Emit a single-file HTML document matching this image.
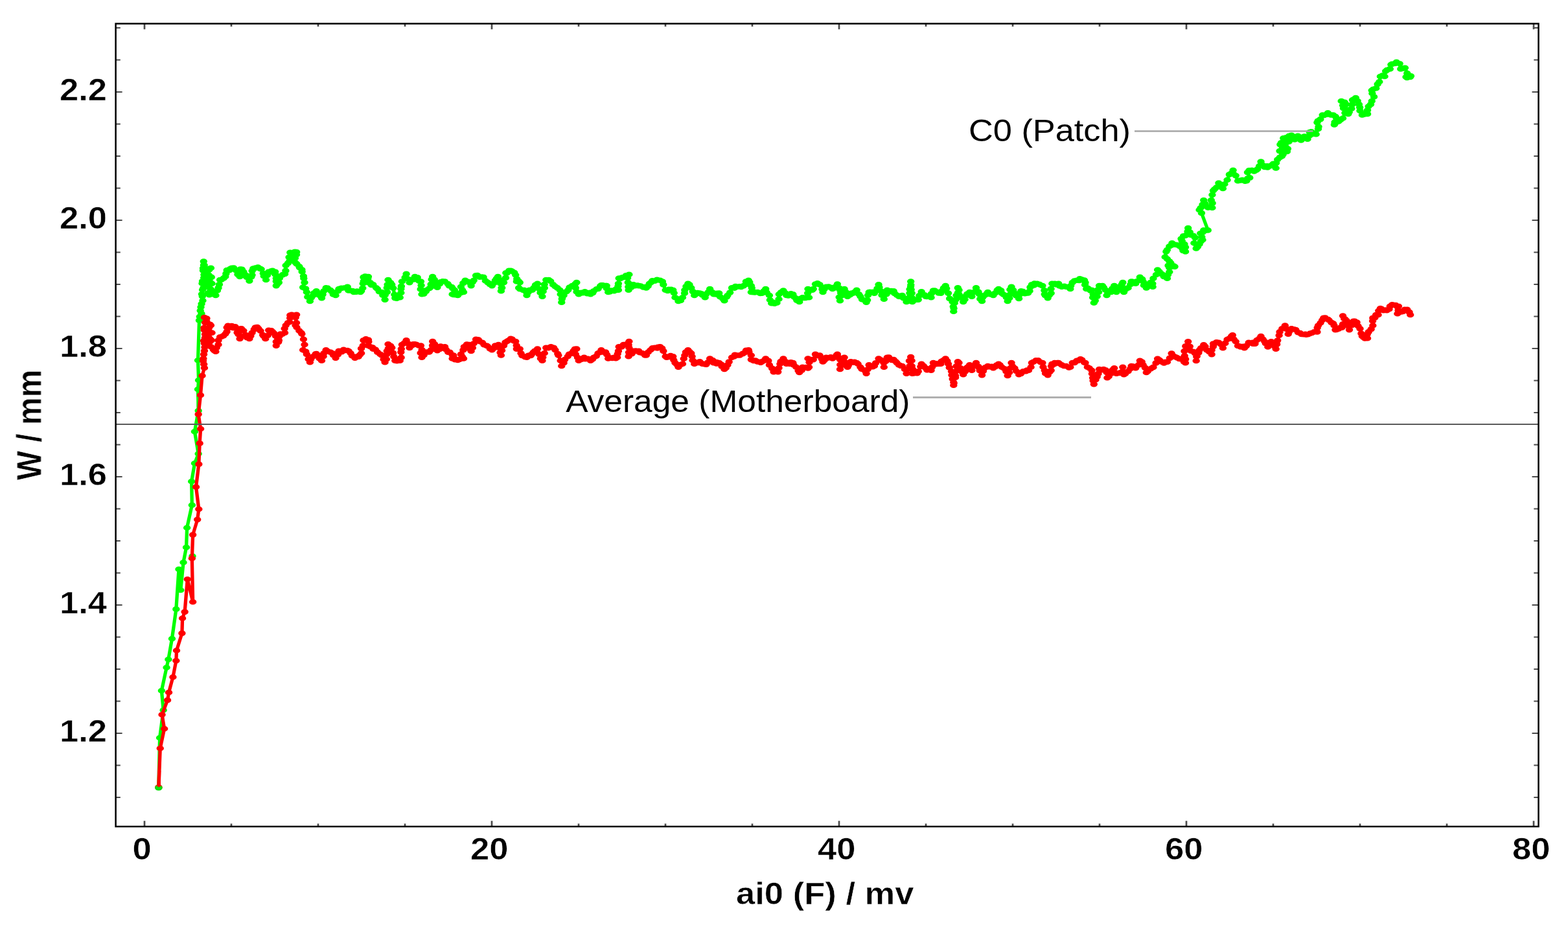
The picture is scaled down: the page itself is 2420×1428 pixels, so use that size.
<!DOCTYPE html>
<html lang="en"><head><meta charset="utf-8"><title>W / mm vs ai0 (F) / mv</title>
<style>html,body{margin:0;padding:0;background:#fff;}body{width:2420px;height:1428px;overflow:hidden;}svg{display:block;}text{font-family:"Liberation Sans",Arial,Helvetica,sans-serif;fill:#000;}.b{font-weight:bold;stroke:#fff;stroke-width:0.5px;}</style></head><body>
<svg width="2420" height="1428" viewBox="0 0 2420 1428">
<rect x="0" y="0" width="2420" height="1428" fill="#ffffff"/>
<defs><filter id="soft" x="0" y="0" width="2420" height="1428" filterUnits="userSpaceOnUse"><feGaussianBlur stdDeviation="0.6"/></filter><filter id="soft2" x="0" y="0" width="2420" height="1428" filterUnits="userSpaceOnUse"><feGaussianBlur stdDeviation="0.6"/></filter></defs>
<path d="M223.00 1276v-8.8M223.00 36.5v8.8M357.00 1276v-4.6M357.00 36.5v4.6M491.00 1276v-4.6M491.00 36.5v4.6M625.00 1276v-4.6M625.00 36.5v4.6M759.00 1276v-8.8M759.00 36.5v8.8M893.00 1276v-4.6M893.00 36.5v4.6M1027.00 1276v-4.6M1027.00 36.5v4.6M1161.00 1276v-4.6M1161.00 36.5v4.6M1295.00 1276v-8.8M1295.00 36.5v8.8M1429.00 1276v-4.6M1429.00 36.5v4.6M1563.00 1276v-4.6M1563.00 36.5v4.6M1697.00 1276v-4.6M1697.00 36.5v4.6M1831.00 1276v-8.8M1831.00 36.5v8.8M1965.00 1276v-4.6M1965.00 36.5v4.6M2099.00 1276v-4.6M2099.00 36.5v4.6M2233.00 1276v-4.6M2233.00 36.5v4.6M2367.00 1276v-8.8M2367.00 36.5v8.8" stroke="#4c4c4c" stroke-width="2.7" fill="none"/>
<path d="M178.6 1231.00h7.2M2374.5 1231.00h-7.2M178.6 1181.50h7.2M2374.5 1181.50h-7.2M178.6 1132.00h10M2374.5 1132.00h-10M178.6 1082.50h7.2M2374.5 1082.50h-7.2M178.6 1033.00h7.2M2374.5 1033.00h-7.2M178.6 983.50h7.2M2374.5 983.50h-7.2M178.6 934.00h10M2374.5 934.00h-10M178.6 884.50h7.2M2374.5 884.50h-7.2M178.6 835.00h7.2M2374.5 835.00h-7.2M178.6 785.50h7.2M2374.5 785.50h-7.2M178.6 736.00h10M2374.5 736.00h-10M178.6 686.50h7.2M2374.5 686.50h-7.2M178.6 637.00h7.2M2374.5 637.00h-7.2M178.6 587.50h7.2M2374.5 587.50h-7.2M178.6 538.00h10M2374.5 538.00h-10M178.6 488.50h7.2M2374.5 488.50h-7.2M178.6 439.00h7.2M2374.5 439.00h-7.2M178.6 389.50h7.2M2374.5 389.50h-7.2M178.6 340.00h10M2374.5 340.00h-10M178.6 290.50h7.2M2374.5 290.50h-7.2M178.6 241.00h7.2M2374.5 241.00h-7.2M178.6 191.50h7.2M2374.5 191.50h-7.2M178.6 142.00h10M2374.5 142.00h-10M178.6 92.50h7.2M2374.5 92.50h-7.2M178.6 43.00h7.2M2374.5 43.00h-7.2" stroke="#4c4c4c" stroke-width="2" fill="none"/>
<g filter="url(#soft)">
<g transform="scale(1.33 1)" stroke="#00ff00" fill="none" stroke-linecap="round" stroke-linejoin="round"><path d="M184.1 1215.4L185.4 1139.0L189.6 1096.3L187.5 1066.2L193.3 1030.5L195.4 1018.0L199.6 986.0L204.4 940.4L207.5 878.8L209.6 911.0L212.8 868.3L216.2 845.0L217.0 814.7L222.8 779.7L222.3 743.2L225.9 715.2L230.2 700.5L225.9 666.2L230.2 634.0L229.7 601.0L230.5 587.0L229.7 556.2L231.2 494.6L231.8 488.7L233.8 484.0L232.5 479.5L233.1 474.0L233.9 469.1L235.3 464.0L234.8 457.4L234.2 454.0L235.0 447.3L236.1 444.0L234.6 437.5L235.0 434.0L236.6 428.7L236.8 424.0L235.7 417.6L235.7 414.0L237.0 409.3L236.3 403.6L236.4 409.2L236.0 416.0L237.2 419.6L238.7 419.4L240.1 415.4L243.5 414.6L244.7 413.8L242.7 416.4L240.4 421.2L242.6 425.0L245.3 427.9L242.3 429.7L240.5 429.6L239.1 432.8L241.2 435.1L243.9 435.4L245.9 437.8L243.4 439.3L242.2 442.1L239.7 442.7L241.8 443.5L244.3 446.1L245.3 447.7L243.0 451.0L241.6 452.6L242.9 455.2L246.5 454.0L248.1 453.9L250.3 456.0L252.2 448.5L253.4 444.4L254.5 439.1L255.3 432.0L256.9 431.7L259.6 429.4L261.5 427.0L262.3 422.4L263.3 417.1L266.2 417.2L267.4 414.8L268.9 413.8L271.2 413.6L273.7 417.1L274.5 417.9L275.9 423.6L278.3 427.0L278.9 420.8L278.9 415.5L280.7 415.8L282.6 419.6L285.1 424.5L286.4 427.9L289.4 433.6L291.6 427.5L292.5 424.5L292.6 418.3L293.8 414.6L296.5 413.6L297.5 413.3L299.3 412.5L302.1 414.9L303.1 415.5L305.5 422.0L306.2 426.2L308.7 432.0L310.1 425.0L311.8 419.6L314.8 418.3L316.2 417.9L317.0 420.4L319.3 419.6L319.3 423.4L320.5 429.5L320.5 434.3L320.5 441.1L321.6 438.9L323.6 436.1L324.4 429.4L325.5 426.2L328.1 424.1L330.5 422.9L331.5 417.9L331.7 409.7L334.1 406.4L336.0 403.1L335.4 397.1L336.7 389.8L339.1 391.1L341.0 390.8L342.0 388.8L344.1 389.0L344.0 393.1L342.4 398.5L342.9 405.5L344.3 407.4L347.2 411.3L347.8 413.2L350.3 416.3L350.5 419.4L352.2 426.2L352.5 429.7L353.4 436.1L351.6 443.6L354.6 445.6L355.9 451.0L357.0 458.4L359.7 465.0L361.2 459.6L363.4 456.0L364.4 452.2L367.1 449.3L370.0 453.9L370.8 456.0L373.3 460.1L374.5 454.6L375.8 449.3L378.3 444.4L379.9 444.5L383.3 447.7L384.8 449.9L386.7 454.4L389.5 456.0L392.3 449.3L393.2 446.0L394.4 445.5L396.2 444.9L400.2 444.2L401.6 444.7L403.2 442.7L404.4 448.5L406.2 448.5L409.1 449.0L410.6 451.0L413.4 450.7L414.4 449.6L418.2 450.9L419.3 449.3L420.9 444.8L421.2 437.8L422.0 434.0L421.8 427.9L423.7 426.6L424.5 426.8L427.4 427.0L426.9 429.9L427.4 436.1L429.7 436.4L431.0 440.0L433.0 439.4L436.5 444.3L438.0 446.0L440.1 450.2L442.9 451.0L444.2 455.8L446.7 462.6L446.8 455.4L449.2 450.9L449.1 444.4L449.7 439.4L450.4 432.0L453.2 436.3L454.7 439.4L456.3 444.8L457.8 454.7L458.5 460.1L460.3 460.7L462.8 458.4L464.1 459.3L465.3 452.0L465.3 446.0L465.7 441.9L466.5 434.5L470.0 428.3L471.5 422.9L472.7 430.3L475.2 436.1L476.6 431.7L480.0 431.5L481.5 427.0L484.4 428.2L486.3 433.7L488.3 434.5L488.8 440.5L488.1 446.4L489.5 454.3L491.7 453.8L494.2 450.0L495.1 447.7L498.4 445.0L500.1 442.7L500.1 438.7L500.9 431.4L502.0 427.0L504.0 431.6L505.5 437.2L507.5 443.6L510.3 438.1L511.3 435.3L513.7 434.3L516.2 434.5L519.6 438.1L521.2 441.1L524.2 443.0L525.4 445.5L527.4 447.7L524.9 454.3L526.0 454.9L528.4 455.2L531.2 456.0L534.1 452.5L535.7 451.5L538.0 451.0L536.6 447.7L534.9 442.7L537.4 437.1L539.9 432.8L543.0 434.7L544.8 436.1L546.7 441.1L548.4 435.5L549.8 432.8L552.3 425.4L554.0 425.1L556.7 427.6L559.4 427.5L561.0 427.9L563.4 433.5L566.0 436.1L568.5 439.0L570.9 441.1L573.2 437.0L574.7 432.8L576.3 429.7L577.8 427.0L580.3 432.3L580.9 437.8L582.0 444.3L581.5 449.3L582.5 444.3L584.6 436.1L586.8 428.9L587.1 421.2L588.2 421.4L590.7 417.7L592.7 417.9L594.0 418.6L596.8 420.8L598.3 424.5L599.8 430.5L599.5 434.5L601.8 434.0L603.2 436.1L602.0 444.4L603.3 446.1L607.2 448.0L608.2 447.7L610.7 450.8L611.3 456.0L612.8 451.5L614.4 447.7L617.6 447.8L619.4 444.4L621.4 439.9L623.7 437.8L625.6 446.0L627.1 451.9L629.3 457.6L630.2 449.9L631.8 444.4L631.7 439.0L633.7 432.0L635.1 432.2L636.8 432.0L638.9 434.0L641.8 439.4L644.3 442.3L646.7 444.4L649.7 447.8L650.5 454.3L652.1 461.5L651.7 466.7L652.4 459.9L654.2 456.0L657.3 450.2L659.2 447.7L660.9 443.6L664.1 441.1L667.5 438.3L669.1 436.1L667.9 444.4L669.2 450.5L671.6 454.3L674.6 451.9L676.2 452.3L677.8 451.0L678.7 450.3L681.4 453.3L684.4 451.9L685.3 454.3L687.8 452.3L689.0 449.3L692.3 446.2L694.0 446.0L696.6 441.6L697.7 440.2L699.4 440.4L702.8 441.0L703.9 441.1L704.0 445.2L705.8 451.0L707.5 450.5L709.6 448.5L712.6 449.3L714.4 446.9L717.6 447.7L717.2 442.1L717.6 437.8L718.2 429.5L720.0 429.9L722.1 428.4L725.0 427.9L726.5 425.2L730.0 423.7L728.3 429.0L728.8 436.1L729.2 442.7L729.4 447.7L731.2 443.8L732.3 443.7L735.0 439.4L736.9 441.1L739.8 440.5L741.2 441.1L743.4 441.5L746.6 443.4L748.4 443.0L749.9 444.4L752.0 441.8L753.6 437.8L755.4 436.0L757.0 433.4L759.8 433.6L762.4 431.8L763.2 432.2L766.0 432.8L768.7 434.6L769.8 439.4L772.3 447.7L774.8 449.0L776.1 446.9L778.7 446.9L781.0 447.7L782.1 452.2L783.4 459.3L786.3 461.3L787.2 465.0L789.8 463.9L792.1 459.3L794.4 452.6L794.6 447.7L796.2 442.0L798.4 437.8L800.0 439.3L802.1 444.4L804.0 450.1L805.8 456.0L807.9 453.8L809.4 452.0L812.0 452.6L813.9 453.4L815.1 455.4L818.2 459.3L819.5 454.1L822.0 450.7L823.8 446.0L826.4 451.1L828.2 454.3L831.1 454.5L832.0 452.8L834.4 452.6L835.7 458.2L838.9 461.2L840.6 464.2L843.2 458.4L844.3 456.0L847.1 451.6L849.3 444.4L852.1 444.7L853.5 442.0L855.5 442.7L858.1 442.3L860.0 443.0L862.0 441.8L863.0 441.1L865.3 439.0L865.7 434.6L868.6 432.8L869.8 435.6L871.7 441.1L872.4 444.6L871.7 451.0L873.8 451.2L875.8 451.4L876.2 451.0L879.1 451.0L882.2 452.9L884.1 452.6L886.4 449.3L888.5 446.0L889.7 451.6L892.8 456.0L893.5 463.0L895.3 468.3L896.9 466.5L898.8 468.6L901.5 467.5L903.8 461.8L904.0 454.3L906.2 451.4L909.0 448.5L911.2 452.2L912.7 456.0L914.8 456.5L915.5 455.6L917.8 453.4L920.2 454.3L921.6 458.5L923.9 460.9L924.7 463.6L927.6 465.9L929.0 461.0L931.3 459.3L933.6 459.9L934.6 459.9L936.9 459.3L938.8 459.3L937.3 452.5L937.6 446.0L939.0 447.5L942.6 447.8L943.8 446.0L946.2 438.6L948.6 437.3L951.2 439.4L954.1 446.4L954.9 451.0L956.3 446.7L958.7 442.7L961.5 442.5L962.6 443.3L964.3 443.9L966.1 446.0L967.2 445.2L969.9 442.2L971.7 438.6L973.7 444.5L974.8 447.7L975.7 452.2L973.8 458.7L974.8 464.2L976.5 456.4L977.7 451.9L979.8 446.0L981.3 450.5L983.5 457.6L986.3 455.3L988.2 452.5L989.7 452.6L991.1 451.4L994.1 447.7L996.7 454.2L998.4 457.6L1000.3 462.1L1002.8 463.2L1005.3 466.7L1006.5 463.3L1007.2 455.7L1008.4 451.0L1009.5 450.7L1013.3 450.7L1014.6 452.6L1018.0 445.3L1019.6 439.4L1020.3 443.5L1022.1 449.3L1023.3 455.6L1025.8 461.7L1028.6 454.3L1029.5 447.7L1032.1 449.5L1034.1 449.0L1035.2 450.5L1037.0 449.3L1038.1 452.9L1041.0 455.7L1043.2 457.6L1045.4 457.7L1046.9 456.0L1048.4 460.1L1051.9 465.9L1052.9 460.8L1055.6 452.6L1055.7 446.5L1057.0 439.8L1056.9 434.5L1056.8 442.2L1057.3 447.1L1058.1 452.6L1058.2 459.5L1058.7 465.9L1060.3 463.6L1064.2 462.6L1065.6 462.6L1066.8 456.4L1069.3 450.2L1072.8 455.3L1074.3 457.6L1075.5 458.0L1077.5 457.6L1080.5 459.3L1080.8 453.3L1083.0 448.5L1084.6 448.6L1088.1 450.8L1089.3 452.5L1091.7 452.6L1093.6 448.5L1095.0 444.5L1097.2 441.1L1098.3 445.3L1100.4 452.6L1102.0 460.9L1105.3 465.9L1106.2 473.3L1106.6 480.7L1106.8 476.0L1107.7 467.8L1109.1 462.6L1109.8 456.1L1111.5 452.1L1111.5 444.4L1112.8 447.7L1112.7 454.0L1114.6 457.6L1116.7 460.1L1117.8 465.9L1119.6 462.3L1121.5 456.0L1122.3 453.8L1125.2 451.0L1127.7 457.6L1131.1 450.6L1132.7 444.4L1135.3 450.5L1136.4 454.3L1137.4 461.4L1139.5 465.0L1140.3 459.1L1142.6 456.0L1144.9 453.6L1146.3 451.0L1148.9 454.2L1151.1 454.8L1152.6 456.0L1154.7 452.5L1157.3 447.7L1158.8 446.0L1161.5 448.4L1162.5 452.6L1164.6 454.8L1167.5 456.0L1167.9 459.2L1169.3 465.0L1171.3 460.2L1172.4 454.3L1172.1 447.1L1173.7 442.7L1175.7 447.8L1177.4 452.6L1179.3 456.4L1182.4 460.9L1182.6 455.5L1184.9 449.3L1186.8 449.7L1189.3 453.2L1191.1 452.6L1192.9 452.4L1194.8 449.3L1195.5 443.4L1197.3 439.4L1199.8 440.5L1200.4 437.6L1203.5 437.8L1206.0 438.9L1207.1 439.7L1209.7 441.1L1211.9 448.3L1212.2 454.3L1213.1 456.2L1215.9 460.1L1217.6 455.8L1219.7 452.6L1219.6 445.9L1220.9 437.8L1223.3 438.8L1224.0 437.8L1226.1 439.5L1228.4 437.8L1229.6 441.4L1232.1 442.7L1235.1 441.7L1237.1 442.7L1240.5 443.6L1242.0 446.0L1242.6 441.1L1244.5 436.1L1246.8 433.5L1249.5 432.8L1252.3 432.9L1253.0 430.4L1255.1 431.2L1258.3 432.6L1259.4 436.1L1259.1 439.8L1260.7 446.0L1262.5 445.0L1265.6 448.6L1266.9 447.7L1268.6 454.3L1268.1 459.3L1269.4 467.5L1270.9 464.1L1273.1 457.6L1274.9 451.0L1273.7 447.5L1275.6 441.1L1277.2 441.7L1279.3 441.1L1280.8 443.9L1283.0 447.7L1284.3 456.0L1285.7 452.3L1289.3 451.0L1290.8 445.2L1293.0 441.1L1293.4 447.7L1295.5 451.0L1296.7 448.5L1299.2 442.7L1301.8 438.9L1302.9 436.1L1303.4 444.7L1304.2 451.0L1306.6 446.1L1309.1 444.4L1311.9 439.0L1312.9 434.5L1315.1 435.0L1317.8 437.8L1319.3 434.2L1322.8 427.9L1325.4 430.8L1326.5 434.5L1327.4 440.4L1330.3 444.4L1331.8 438.6L1335.2 436.1L1337.7 442.7L1337.5 437.8L1338.3 429.8L1341.7 424.0L1343.3 416.5L1345.3 419.3L1348.3 423.1L1350.6 427.0L1352.9 426.7L1354.5 429.8L1355.3 424.1L1357.0 419.8L1356.9 413.1L1355.7 409.9L1357.9 411.8L1358.4 412.3L1361.3 410.2L1363.2 411.6L1362.1 410.5L1358.5 405.7L1357.0 403.3L1354.5 399.7L1352.0 396.7L1353.3 388.4L1354.4 385.8L1357.0 380.2L1359.1 378.8L1360.1 375.2L1363.0 377.5L1364.3 377.8L1366.9 378.5L1369.1 380.3L1371.9 383.5L1372.9 387.0L1375.6 388.4L1375.6 381.6L1374.4 376.9L1371.6 371.8L1370.7 368.6L1373.3 364.4L1375.6 363.6L1378.2 357.2L1378.7 352.1L1380.7 358.4L1380.6 362.0L1381.8 362.8L1384.7 363.8L1386.8 366.9L1385.6 375.2L1388.1 383.5L1389.8 380.9L1391.8 376.9L1393.5 372.6L1395.5 370.2L1394.6 365.7L1393.0 360.3L1395.6 358.7L1396.8 355.4L1398.4 356.0L1401.7 355.4L1394.3 328.9L1391.8 324.0L1393.2 321.1L1395.5 315.7L1396.8 309.1L1398.3 314.3L1400.5 319.0L1401.9 320.4L1404.1 319.2L1406.7 320.7L1406.9 313.6L1405.5 309.1L1406.7 300.8L1407.9 294.2L1409.4 292.0L1411.7 289.3L1414.2 282.6L1417.7 286.4L1419.1 290.9L1421.0 284.3L1424.1 277.7L1426.6 269.4L1429.1 267.2L1430.9 262.8L1431.6 268.7L1434.0 271.1L1436.5 279.3L1439.7 278.4L1441.5 277.7L1444.9 279.7L1446.5 279.3L1447.9 275.2L1450.2 274.4L1447.7 266.1L1449.5 263.1L1452.7 262.8L1455.3 264.5L1457.7 262.8L1459.2 261.1L1461.4 256.2L1463.2 249.6L1465.3 255.0L1467.6 257.9L1470.3 256.4L1470.9 258.4L1473.8 256.2L1475.9 254.9L1477.5 252.9L1478.8 255.2L1480.6 259.5L1480.9 251.6L1482.5 246.3L1485.2 242.9L1487.5 241.3L1485.0 233.1L1486.2 232.4L1488.3 228.8L1489.9 230.0L1492.5 228.1L1489.5 225.8L1488.0 225.9L1485.6 223.1L1486.8 220.3L1489.8 220.3L1490.8 219.9L1493.7 218.2L1491.9 214.5L1489.3 213.2L1488.7 219.3L1490.0 225.3L1489.0 231.6L1488.7 238.7L1490.4 235.1L1493.5 233.9L1494.3 229.6L1491.5 226.2L1490.0 223.8L1491.2 223.0L1494.6 218.7L1495.6 218.8L1494.7 215.3L1492.5 212.2L1495.4 210.8L1495.9 209.9L1498.7 208.9L1500.6 210.5L1502.4 215.5L1505.1 213.2L1506.1 209.8L1508.2 211.6L1509.8 216.4L1511.7 213.0L1513.6 210.6L1515.0 211.4L1517.3 214.7L1519.5 209.4L1519.8 204.0L1521.6 203.4L1524.5 206.7L1524.6 205.4L1527.2 207.3L1529.7 199.0L1530.1 195.6L1528.5 189.1L1529.4 186.5L1532.2 184.1L1534.7 177.5L1536.5 178.0L1539.1 176.8L1540.9 174.2L1542.3 176.5L1544.5 177.4L1547.1 177.5L1549.7 179.7L1550.9 182.5L1548.9 188.6L1548.4 192.4L1550.6 188.9L1553.3 187.4L1555.6 185.0L1558.3 182.5L1560.8 174.2L1559.0 167.1L1558.3 162.6L1556.5 156.0L1559.2 158.5L1560.3 157.7L1562.0 161.0L1562.3 169.4L1564.5 175.9L1565.6 173.0L1568.3 167.6L1569.0 161.4L1569.5 154.4L1570.9 153.2L1573.2 151.1L1575.3 155.7L1577.0 161.0L1577.9 165.7L1578.2 170.9L1580.7 177.5L1582.6 176.8L1585.1 174.7L1586.9 175.9L1586.9 170.0L1588.1 164.3L1590.6 161.1L1591.9 156.0L1594.4 149.4L1592.4 144.3L1591.9 139.5L1593.5 137.8L1596.8 136.2L1598.6 129.9L1600.6 126.3L1601.8 118.0L1604.2 116.5L1606.8 118.0L1608.0 109.8L1609.5 108.1L1613.0 106.4L1614.2 99.8L1615.4 98.9L1619.0 97.9L1620.5 95.7L1621.4 97.0L1624.2 98.2L1625.4 106.4L1627.6 105.6L1630.4 104.8L1632.9 113.1L1631.6 118.8L1632.7 119.9L1636.4 119.0L1637.2 117.2" stroke-width="4.0"/><path d="M184.1 1215.4h0M185.4 1139.0h0M189.6 1096.3h0M187.5 1066.2h0M193.3 1030.5h0M195.4 1018.0h0M199.6 986.0h0M204.4 940.4h0M207.5 878.8h0M209.6 911.0h0M212.8 868.3h0M216.2 845.0h0M217.0 814.7h0M222.8 779.7h0M222.3 743.2h0M225.9 715.2h0M230.2 700.5h0M225.9 666.2h0M230.2 634.0h0M229.7 601.0h0M230.5 587.0h0M229.7 556.2h0" stroke-width="8.6"/><path d="M231.2 494.6h0M231.8 488.7h0M233.8 484.0h0M232.5 479.5h0M233.1 474.0h0M233.9 469.1h0M235.3 464.0h0M234.8 457.4h0M234.2 454.0h0M235.0 447.3h0M236.1 444.0h0M234.6 437.5h0M235.0 434.0h0M236.6 428.7h0M236.8 424.0h0M235.7 417.6h0M235.7 414.0h0M237.0 409.3h0M236.3 403.6h0M236.4 409.2h0M236.0 416.0h0M237.2 419.6h0M238.7 419.4h0M240.1 415.4h0M243.5 414.6h0M244.7 413.8h0M242.7 416.4h0M240.4 421.2h0M242.6 425.0h0M245.3 427.9h0M242.3 429.7h0M240.5 429.6h0M239.1 432.8h0M241.2 435.1h0M243.9 435.4h0M245.9 437.8h0M243.4 439.3h0M242.2 442.1h0M239.7 442.7h0M241.8 443.5h0M244.3 446.1h0M245.3 447.7h0M243.0 451.0h0M241.6 452.6h0M242.9 455.2h0M246.5 454.0h0M248.1 453.9h0M250.3 456.0h0M252.2 448.5h0M253.4 444.4h0M254.5 439.1h0M255.3 432.0h0M256.9 431.7h0M259.6 429.4h0M261.5 427.0h0M262.3 422.4h0M263.3 417.1h0M266.2 417.2h0M267.4 414.8h0M268.9 413.8h0M271.2 413.6h0M273.7 417.1h0M274.5 417.9h0M275.9 423.6h0M278.3 427.0h0M278.9 420.8h0M278.9 415.5h0M280.7 415.8h0M282.6 419.6h0M285.1 424.5h0M286.4 427.9h0M289.4 433.6h0M291.6 427.5h0M292.5 424.5h0M292.6 418.3h0M293.8 414.6h0M296.5 413.6h0M297.5 413.3h0M299.3 412.5h0M302.1 414.9h0M303.1 415.5h0M305.5 422.0h0M306.2 426.2h0M308.7 432.0h0M310.1 425.0h0M311.8 419.6h0M314.8 418.3h0M316.2 417.9h0M317.0 420.4h0M319.3 419.6h0M319.3 423.4h0M320.5 429.5h0M320.5 434.3h0M320.5 441.1h0M321.6 438.9h0M323.6 436.1h0M324.4 429.4h0M325.5 426.2h0M328.1 424.1h0M330.5 422.9h0M331.5 417.9h0M331.7 409.7h0M334.1 406.4h0M336.0 403.1h0M335.4 397.1h0M336.7 389.8h0M339.1 391.1h0M341.0 390.8h0M342.0 388.8h0M344.1 389.0h0M344.0 393.1h0M342.4 398.5h0M342.9 405.5h0M344.3 407.4h0M347.2 411.3h0M347.8 413.2h0M350.3 416.3h0M350.5 419.4h0M352.2 426.2h0M352.5 429.7h0M353.4 436.1h0M351.6 443.6h0M354.6 445.6h0M355.9 451.0h0M357.0 458.4h0M359.7 465.0h0M361.2 459.6h0M363.4 456.0h0M364.4 452.2h0M367.1 449.3h0M370.0 453.9h0M370.8 456.0h0M373.3 460.1h0M374.5 454.6h0M375.8 449.3h0M378.3 444.4h0M379.9 444.5h0M383.3 447.7h0M384.8 449.9h0M386.7 454.4h0M389.5 456.0h0M392.3 449.3h0M393.2 446.0h0M394.4 445.5h0M396.2 444.9h0M400.2 444.2h0M401.6 444.7h0M403.2 442.7h0M404.4 448.5h0M406.2 448.5h0M409.1 449.0h0M410.6 451.0h0M413.4 450.7h0M414.4 449.6h0M418.2 450.9h0M419.3 449.3h0M420.9 444.8h0M421.2 437.8h0M422.0 434.0h0M421.8 427.9h0M423.7 426.6h0M424.5 426.8h0M427.4 427.0h0M426.9 429.9h0M427.4 436.1h0M429.7 436.4h0M431.0 440.0h0M433.0 439.4h0M436.5 444.3h0M438.0 446.0h0M440.1 450.2h0M442.9 451.0h0M444.2 455.8h0M446.7 462.6h0M446.8 455.4h0M449.2 450.9h0M449.1 444.4h0M449.7 439.4h0M450.4 432.0h0M453.2 436.3h0M454.7 439.4h0M456.3 444.8h0M457.8 454.7h0M458.5 460.1h0M460.3 460.7h0M462.8 458.4h0M464.1 459.3h0M465.3 452.0h0M465.3 446.0h0M465.7 441.9h0M466.5 434.5h0M470.0 428.3h0M471.5 422.9h0M472.7 430.3h0M475.2 436.1h0M476.6 431.7h0M480.0 431.5h0M481.5 427.0h0M484.4 428.2h0M486.3 433.7h0M488.3 434.5h0M488.8 440.5h0M488.1 446.4h0M489.5 454.3h0M491.7 453.8h0M494.2 450.0h0M495.1 447.7h0M498.4 445.0h0M500.1 442.7h0M500.1 438.7h0M500.9 431.4h0M502.0 427.0h0M504.0 431.6h0M505.5 437.2h0M507.5 443.6h0M510.3 438.1h0M511.3 435.3h0M513.7 434.3h0M516.2 434.5h0M519.6 438.1h0M521.2 441.1h0M524.2 443.0h0M525.4 445.5h0M527.4 447.7h0M524.9 454.3h0M526.0 454.9h0M528.4 455.2h0M531.2 456.0h0M534.1 452.5h0M535.7 451.5h0M538.0 451.0h0M536.6 447.7h0M534.9 442.7h0M537.4 437.1h0M539.9 432.8h0M543.0 434.7h0M544.8 436.1h0M546.7 441.1h0M548.4 435.5h0M549.8 432.8h0M552.3 425.4h0M554.0 425.1h0M556.7 427.6h0M559.4 427.5h0M561.0 427.9h0M563.4 433.5h0M566.0 436.1h0M568.5 439.0h0M570.9 441.1h0M573.2 437.0h0M574.7 432.8h0M576.3 429.7h0M577.8 427.0h0M580.3 432.3h0M580.9 437.8h0M582.0 444.3h0M581.5 449.3h0M582.5 444.3h0M584.6 436.1h0M586.8 428.9h0M587.1 421.2h0M588.2 421.4h0M590.7 417.7h0M592.7 417.9h0M594.0 418.6h0M596.8 420.8h0M598.3 424.5h0M599.8 430.5h0M599.5 434.5h0M601.8 434.0h0M603.2 436.1h0M602.0 444.4h0M603.3 446.1h0M607.2 448.0h0M608.2 447.7h0M610.7 450.8h0M611.3 456.0h0M612.8 451.5h0M614.4 447.7h0M617.6 447.8h0M619.4 444.4h0M621.4 439.9h0M623.7 437.8h0M625.6 446.0h0M627.1 451.9h0M629.3 457.6h0M630.2 449.9h0M631.8 444.4h0M631.7 439.0h0M633.7 432.0h0M635.1 432.2h0M636.8 432.0h0M638.9 434.0h0M641.8 439.4h0M644.3 442.3h0M646.7 444.4h0M649.7 447.8h0M650.5 454.3h0M652.1 461.5h0M651.7 466.7h0M652.4 459.9h0M654.2 456.0h0M657.3 450.2h0M659.2 447.7h0M660.9 443.6h0M664.1 441.1h0M667.5 438.3h0M669.1 436.1h0M667.9 444.4h0M669.2 450.5h0M671.6 454.3h0M674.6 451.9h0M676.2 452.3h0M677.8 451.0h0M678.7 450.3h0M681.4 453.3h0M684.4 451.9h0M685.3 454.3h0M687.8 452.3h0M689.0 449.3h0M692.3 446.2h0M694.0 446.0h0M696.6 441.6h0M697.7 440.2h0M699.4 440.4h0M702.8 441.0h0M703.9 441.1h0M704.0 445.2h0M705.8 451.0h0M707.5 450.5h0M709.6 448.5h0M712.6 449.3h0M714.4 446.9h0M717.6 447.7h0M717.2 442.1h0M717.6 437.8h0M718.2 429.5h0M720.0 429.9h0M722.1 428.4h0M725.0 427.9h0M726.5 425.2h0M730.0 423.7h0M728.3 429.0h0M728.8 436.1h0M729.2 442.7h0M729.4 447.7h0M731.2 443.8h0M732.3 443.7h0M735.0 439.4h0M736.9 441.1h0M739.8 440.5h0M741.2 441.1h0M743.4 441.5h0M746.6 443.4h0M748.4 443.0h0M749.9 444.4h0M752.0 441.8h0M753.6 437.8h0M755.4 436.0h0M757.0 433.4h0M759.8 433.6h0M762.4 431.8h0M763.2 432.2h0M766.0 432.8h0M768.7 434.6h0M769.8 439.4h0M772.3 447.7h0M774.8 449.0h0M776.1 446.9h0M778.7 446.9h0M781.0 447.7h0M782.1 452.2h0M783.4 459.3h0M786.3 461.3h0M787.2 465.0h0M789.8 463.9h0M792.1 459.3h0M794.4 452.6h0M794.6 447.7h0M796.2 442.0h0M798.4 437.8h0M800.0 439.3h0M802.1 444.4h0M804.0 450.1h0M805.8 456.0h0M807.9 453.8h0M809.4 452.0h0M812.0 452.6h0M813.9 453.4h0M815.1 455.4h0M818.2 459.3h0M819.5 454.1h0M822.0 450.7h0M823.8 446.0h0M826.4 451.1h0M828.2 454.3h0M831.1 454.5h0M832.0 452.8h0M834.4 452.6h0M835.7 458.2h0M838.9 461.2h0M840.6 464.2h0M843.2 458.4h0M844.3 456.0h0M847.1 451.6h0M849.3 444.4h0M852.1 444.7h0M853.5 442.0h0M855.5 442.7h0M858.1 442.3h0M860.0 443.0h0M862.0 441.8h0M863.0 441.1h0M865.3 439.0h0M865.7 434.6h0M868.6 432.8h0M869.8 435.6h0M871.7 441.1h0M872.4 444.6h0M871.7 451.0h0M873.8 451.2h0M875.8 451.4h0M876.2 451.0h0M879.1 451.0h0M882.2 452.9h0M884.1 452.6h0M886.4 449.3h0M888.5 446.0h0M889.7 451.6h0M892.8 456.0h0M893.5 463.0h0M895.3 468.3h0M896.9 466.5h0M898.8 468.6h0M901.5 467.5h0M903.8 461.8h0M904.0 454.3h0M906.2 451.4h0M909.0 448.5h0M911.2 452.2h0M912.7 456.0h0M914.8 456.5h0M915.5 455.6h0M917.8 453.4h0M920.2 454.3h0M921.6 458.5h0M923.9 460.9h0M924.7 463.6h0M927.6 465.9h0M929.0 461.0h0M931.3 459.3h0M933.6 459.9h0M934.6 459.9h0M936.9 459.3h0M938.8 459.3h0M937.3 452.5h0M937.6 446.0h0M939.0 447.5h0M942.6 447.8h0M943.8 446.0h0M946.2 438.6h0M948.6 437.3h0M951.2 439.4h0M954.1 446.4h0M954.9 451.0h0M956.3 446.7h0M958.7 442.7h0M961.5 442.5h0M962.6 443.3h0M964.3 443.9h0M966.1 446.0h0M967.2 445.2h0M969.9 442.2h0M971.7 438.6h0M973.7 444.5h0M974.8 447.7h0M975.7 452.2h0M973.8 458.7h0M974.8 464.2h0M976.5 456.4h0M977.7 451.9h0M979.8 446.0h0M981.3 450.5h0M983.5 457.6h0M986.3 455.3h0M988.2 452.5h0M989.7 452.6h0M991.1 451.4h0M994.1 447.7h0M996.7 454.2h0M998.4 457.6h0M1000.3 462.1h0M1002.8 463.2h0M1005.3 466.7h0M1006.5 463.3h0M1007.2 455.7h0M1008.4 451.0h0M1009.5 450.7h0M1013.3 450.7h0M1014.6 452.6h0M1018.0 445.3h0M1019.6 439.4h0M1020.3 443.5h0M1022.1 449.3h0M1023.3 455.6h0M1025.8 461.7h0M1028.6 454.3h0M1029.5 447.7h0M1032.1 449.5h0M1034.1 449.0h0M1035.2 450.5h0M1037.0 449.3h0M1038.1 452.9h0M1041.0 455.7h0M1043.2 457.6h0M1045.4 457.7h0M1046.9 456.0h0M1048.4 460.1h0M1051.9 465.9h0M1052.9 460.8h0M1055.6 452.6h0M1055.7 446.5h0M1057.0 439.8h0M1056.9 434.5h0M1056.8 442.2h0M1057.3 447.1h0M1058.1 452.6h0M1058.2 459.5h0M1058.7 465.9h0M1060.3 463.6h0M1064.2 462.6h0M1065.6 462.6h0M1066.8 456.4h0M1069.3 450.2h0M1072.8 455.3h0M1074.3 457.6h0M1075.5 458.0h0M1077.5 457.6h0M1080.5 459.3h0M1080.8 453.3h0M1083.0 448.5h0M1084.6 448.6h0M1088.1 450.8h0M1089.3 452.5h0M1091.7 452.6h0M1093.6 448.5h0M1095.0 444.5h0M1097.2 441.1h0M1098.3 445.3h0M1100.4 452.6h0M1102.0 460.9h0M1105.3 465.9h0M1106.2 473.3h0M1106.6 480.7h0M1106.8 476.0h0M1107.7 467.8h0M1109.1 462.6h0M1109.8 456.1h0M1111.5 452.1h0M1111.5 444.4h0M1112.8 447.7h0M1112.7 454.0h0M1114.6 457.6h0M1116.7 460.1h0M1117.8 465.9h0M1119.6 462.3h0M1121.5 456.0h0M1122.3 453.8h0M1125.2 451.0h0M1127.7 457.6h0M1131.1 450.6h0M1132.7 444.4h0M1135.3 450.5h0M1136.4 454.3h0M1137.4 461.4h0M1139.5 465.0h0M1140.3 459.1h0M1142.6 456.0h0M1144.9 453.6h0M1146.3 451.0h0M1148.9 454.2h0M1151.1 454.8h0M1152.6 456.0h0M1154.7 452.5h0M1157.3 447.7h0M1158.8 446.0h0M1161.5 448.4h0M1162.5 452.6h0M1164.6 454.8h0M1167.5 456.0h0M1167.9 459.2h0M1169.3 465.0h0M1171.3 460.2h0M1172.4 454.3h0M1172.1 447.1h0M1173.7 442.7h0M1175.7 447.8h0M1177.4 452.6h0M1179.3 456.4h0M1182.4 460.9h0M1182.6 455.5h0M1184.9 449.3h0M1186.8 449.7h0M1189.3 453.2h0M1191.1 452.6h0M1192.9 452.4h0M1194.8 449.3h0M1195.5 443.4h0M1197.3 439.4h0M1199.8 440.5h0M1200.4 437.6h0M1203.5 437.8h0M1206.0 438.9h0M1207.1 439.7h0M1209.7 441.1h0M1211.9 448.3h0M1212.2 454.3h0M1213.1 456.2h0M1215.9 460.1h0M1217.6 455.8h0M1219.7 452.6h0M1219.6 445.9h0M1220.9 437.8h0M1223.3 438.8h0M1224.0 437.8h0M1226.1 439.5h0M1228.4 437.8h0M1229.6 441.4h0M1232.1 442.7h0M1235.1 441.7h0M1237.1 442.7h0M1240.5 443.6h0M1242.0 446.0h0M1242.6 441.1h0M1244.5 436.1h0M1246.8 433.5h0M1249.5 432.8h0M1252.3 432.9h0M1253.0 430.4h0M1255.1 431.2h0M1258.3 432.6h0M1259.4 436.1h0M1259.1 439.8h0M1260.7 446.0h0M1262.5 445.0h0M1265.6 448.6h0M1266.9 447.7h0M1268.6 454.3h0M1268.1 459.3h0M1269.4 467.5h0M1270.9 464.1h0M1273.1 457.6h0M1274.9 451.0h0M1273.7 447.5h0M1275.6 441.1h0M1277.2 441.7h0M1279.3 441.1h0M1280.8 443.9h0M1283.0 447.7h0M1284.3 456.0h0M1285.7 452.3h0M1289.3 451.0h0M1290.8 445.2h0M1293.0 441.1h0M1293.4 447.7h0M1295.5 451.0h0M1296.7 448.5h0M1299.2 442.7h0M1301.8 438.9h0M1302.9 436.1h0M1303.4 444.7h0M1304.2 451.0h0M1306.6 446.1h0M1309.1 444.4h0M1311.9 439.0h0M1312.9 434.5h0M1315.1 435.0h0M1317.8 437.8h0M1319.3 434.2h0M1322.8 427.9h0M1325.4 430.8h0M1326.5 434.5h0M1327.4 440.4h0M1330.3 444.4h0M1331.8 438.6h0M1335.2 436.1h0M1337.7 442.7h0M1337.5 437.8h0M1338.3 429.8h0M1341.7 424.0h0M1343.3 416.5h0M1345.3 419.3h0M1348.3 423.1h0M1350.6 427.0h0M1352.9 426.7h0M1354.5 429.8h0M1355.3 424.1h0M1357.0 419.8h0M1356.9 413.1h0M1355.7 409.9h0M1357.9 411.8h0M1358.4 412.3h0M1361.3 410.2h0M1363.2 411.6h0M1362.1 410.5h0M1358.5 405.7h0M1357.0 403.3h0M1354.5 399.7h0M1352.0 396.7h0M1353.3 388.4h0M1354.4 385.8h0M1357.0 380.2h0M1359.1 378.8h0M1360.1 375.2h0M1363.0 377.5h0M1364.3 377.8h0M1366.9 378.5h0M1369.1 380.3h0M1371.9 383.5h0M1372.9 387.0h0M1375.6 388.4h0M1375.6 381.6h0M1374.4 376.9h0M1371.6 371.8h0M1370.7 368.6h0M1373.3 364.4h0M1375.6 363.6h0M1378.2 357.2h0M1378.7 352.1h0M1380.7 358.4h0M1380.6 362.0h0M1381.8 362.8h0M1384.7 363.8h0M1386.8 366.9h0M1385.6 375.2h0M1388.1 383.5h0M1389.8 380.9h0M1391.8 376.9h0M1393.5 372.6h0M1395.5 370.2h0M1394.6 365.7h0M1393.0 360.3h0M1395.6 358.7h0M1396.8 355.4h0M1398.4 356.0h0M1401.7 355.4h0M1394.3 328.9h0M1391.8 324.0h0M1393.2 321.1h0M1395.5 315.7h0M1396.8 309.1h0M1398.3 314.3h0M1400.5 319.0h0M1401.9 320.4h0M1404.1 319.2h0M1406.7 320.7h0M1406.9 313.6h0M1405.5 309.1h0M1406.7 300.8h0M1407.9 294.2h0M1409.4 292.0h0M1411.7 289.3h0M1414.2 282.6h0M1417.7 286.4h0M1419.1 290.9h0M1421.0 284.3h0M1424.1 277.7h0M1426.6 269.4h0M1429.1 267.2h0M1430.9 262.8h0M1431.6 268.7h0M1434.0 271.1h0M1436.5 279.3h0M1439.7 278.4h0M1441.5 277.7h0M1444.9 279.7h0M1446.5 279.3h0M1447.9 275.2h0M1450.2 274.4h0M1447.7 266.1h0M1449.5 263.1h0M1452.7 262.8h0M1455.3 264.5h0M1457.7 262.8h0M1459.2 261.1h0M1461.4 256.2h0M1463.2 249.6h0M1465.3 255.0h0M1467.6 257.9h0M1470.3 256.4h0M1470.9 258.4h0M1473.8 256.2h0M1475.9 254.9h0M1477.5 252.9h0M1478.8 255.2h0M1480.6 259.5h0M1480.9 251.6h0M1482.5 246.3h0M1485.2 242.9h0M1487.5 241.3h0M1485.0 233.1h0M1486.2 232.4h0M1488.3 228.8h0M1489.9 230.0h0M1492.5 228.1h0M1489.5 225.8h0M1488.0 225.9h0M1485.6 223.1h0M1486.8 220.3h0M1489.8 220.3h0M1490.8 219.9h0M1493.7 218.2h0M1491.9 214.5h0M1489.3 213.2h0M1488.7 219.3h0M1490.0 225.3h0M1489.0 231.6h0M1488.7 238.7h0M1490.4 235.1h0M1493.5 233.9h0M1494.3 229.6h0M1491.5 226.2h0M1490.0 223.8h0M1491.2 223.0h0M1494.6 218.7h0M1495.6 218.8h0M1494.7 215.3h0M1492.5 212.2h0M1495.4 210.8h0M1495.9 209.9h0M1498.7 208.9h0M1500.6 210.5h0M1502.4 215.5h0M1505.1 213.2h0M1506.1 209.8h0M1508.2 211.6h0M1509.8 216.4h0M1511.7 213.0h0M1513.6 210.6h0M1515.0 211.4h0M1517.3 214.7h0M1519.5 209.4h0M1519.8 204.0h0M1521.6 203.4h0M1524.5 206.7h0M1524.6 205.4h0M1527.2 207.3h0M1529.7 199.0h0M1530.1 195.6h0M1528.5 189.1h0M1529.4 186.5h0M1532.2 184.1h0M1534.7 177.5h0M1536.5 178.0h0M1539.1 176.8h0M1540.9 174.2h0M1542.3 176.5h0M1544.5 177.4h0M1547.1 177.5h0M1549.7 179.7h0M1550.9 182.5h0M1548.9 188.6h0M1548.4 192.4h0M1550.6 188.9h0M1553.3 187.4h0M1555.6 185.0h0M1558.3 182.5h0M1560.8 174.2h0M1559.0 167.1h0M1558.3 162.6h0M1556.5 156.0h0M1559.2 158.5h0M1560.3 157.7h0M1562.0 161.0h0M1562.3 169.4h0M1564.5 175.9h0M1565.6 173.0h0M1568.3 167.6h0M1569.0 161.4h0M1569.5 154.4h0M1570.9 153.2h0M1573.2 151.1h0M1575.3 155.7h0M1577.0 161.0h0M1577.9 165.7h0M1578.2 170.9h0M1580.7 177.5h0M1582.6 176.8h0M1585.1 174.7h0M1586.9 175.9h0M1586.9 170.0h0M1588.1 164.3h0M1590.6 161.1h0M1591.9 156.0h0M1594.4 149.4h0M1592.4 144.3h0M1591.9 139.5h0M1593.5 137.8h0M1596.8 136.2h0M1598.6 129.9h0M1600.6 126.3h0M1601.8 118.0h0M1604.2 116.5h0M1606.8 118.0h0M1608.0 109.8h0M1609.5 108.1h0M1613.0 106.4h0M1614.2 99.8h0M1615.4 98.9h0M1619.0 97.9h0M1620.5 95.7h0M1621.4 97.0h0M1624.2 98.2h0M1625.4 106.4h0M1627.6 105.6h0M1630.4 104.8h0M1632.9 113.1h0M1631.6 118.8h0M1632.7 119.9h0M1636.4 119.0h0M1637.2 117.2h0" stroke-width="8.6"/></g>
<g transform="scale(1.33 1)"><path d="M223.3 858.5h0" stroke="#00ff00" stroke-width="8.6" stroke-linecap="round" fill="none"/></g>
<g transform="scale(1.33 1)" stroke="#ff0000" fill="none" stroke-linecap="round" stroke-linejoin="round"><path d="M184.1 1215.4L185.9 1155.2L190.7 1125.0L188.0 1103.3L194.4 1080.9L195.9 1069.0L200.7 1045.2L204.4 1020.0L204.9 1004.2L211.2 977.6L211.7 954.5L214.4 944.6L217.5 894.2L223.8 929.2L222.8 862.0L223.8 825.6L229.1 802.1L230.7 786.0L227.5 751.7L230.7 716.6L231.7 684.4L232.8 662.0L230.2 639.6L232.7 610.0L234.6 580.0L237.2 568.0L236.6 562.3L235.7 557.0L236.0 553.5L236.5 547.0L237.2 541.5L237.6 536.0L237.1 529.9L236.5 526.0L237.9 521.5L238.0 516.0L237.0 509.5L236.8 506.0L238.0 498.0L237.2 490.0L239.8 491.6L240.0 496.8L243.8 500.9L244.7 502.2L242.8 505.3L240.4 507.2L241.2 508.2L243.1 511.7L245.9 513.8L243.3 514.3L241.7 515.4L239.7 518.8L242.3 520.8L243.8 523.2L245.3 525.4L243.2 527.9L240.4 530.3L242.0 532.7L244.7 535.3L247.6 539.6L248.9 541.5L250.3 542.7L251.3 536.7L253.4 532.0L253.4 525.4L255.3 520.4L257.1 519.7L259.2 518.4L261.5 515.5L263.2 512.1L263.3 505.5L264.6 502.9L267.0 505.4L268.9 503.1L270.6 506.2L272.9 504.3L274.5 507.2L275.3 513.4L276.7 516.2L278.3 522.9L279.2 519.3L278.5 511.0L279.5 507.2L280.1 507.4L282.6 510.5L285.1 517.1L286.6 521.1L289.4 522.9L290.9 518.6L292.5 513.8L294.9 508.6L296.3 505.5L298.5 505.0L300.0 507.2L302.3 510.8L305.0 517.1L306.0 519.0L308.1 522.9L310.6 518.0L311.8 509.7L314.8 510.2L316.2 512.1L317.8 514.4L319.9 518.8L320.5 527.5L320.5 533.6L323.1 528.1L323.6 525.4L324.0 519.4L325.5 515.5L327.6 515.6L330.5 513.8L330.2 507.3L331.7 502.2L334.1 498.3L336.0 497.3L336.6 491.0L336.7 486.5L338.4 485.9L340.4 487.8L343.1 486.2L344.1 485.7L343.0 490.1L344.0 498.2L342.9 502.2L344.4 505.5L347.2 510.5L349.7 513.8L350.3 515.5L352.2 523.7L353.4 532.0L351.6 540.2L354.7 542.5L355.9 546.9L358.0 554.4L359.7 559.3L360.7 554.4L363.4 550.2L366.3 546.4L367.1 546.0L369.4 548.8L370.8 553.5L373.3 556.8L375.3 550.1L375.8 545.2L378.3 540.2L380.3 542.2L383.3 543.6L385.8 545.4L386.8 548.1L389.5 552.6L392.1 547.5L393.2 541.9L394.7 542.1L396.6 543.1L398.7 539.7L400.2 541.0L403.2 541.1L404.7 542.0L406.9 545.2L408.6 549.2L411.9 552.6L414.6 550.3L415.9 550.7L417.6 547.8L419.3 545.2L419.2 538.1L421.2 533.6L421.8 525.4L424.6 523.4L426.5 525.5L427.4 524.5L427.7 527.4L427.4 533.6L429.8 535.2L432.2 536.3L433.0 538.6L435.6 539.5L438.0 543.6L441.3 546.9L442.9 548.5L445.2 554.7L446.7 559.3L448.4 554.5L448.7 547.2L449.1 541.9L450.6 538.0L450.4 531.2L453.2 533.8L454.7 536.9L456.1 544.9L457.0 550.6L458.5 556.8L460.6 557.1L462.5 555.3L464.1 556.8L465.5 551.9L465.3 543.6L465.7 538.6L466.5 532.0L469.2 529.5L471.5 525.4L474.1 530.9L475.2 536.9L477.9 533.5L479.6 531.4L481.5 531.2L483.1 531.9L486.0 533.5L488.3 533.6L489.6 540.1L488.1 544.9L489.5 551.8L491.8 548.3L492.5 545.2L495.1 543.6L498.0 543.4L500.1 540.2L501.9 533.4L502.0 527.0L504.2 531.1L505.5 535.3L507.5 541.1L510.3 538.9L511.3 534.5L513.5 536.2L516.2 535.3L517.7 539.7L520.0 543.6L522.0 543.9L524.9 548.1L526.2 548.5L524.9 553.5L528.0 555.1L528.4 554.3L531.2 556.0L533.0 554.9L535.5 553.3L538.0 553.5L536.4 550.6L534.9 546.9L537.5 540.4L538.6 535.3L540.6 535.9L541.7 531.6L544.8 532.0L544.8 538.3L546.7 541.9L548.4 536.9L549.8 530.3L552.3 523.7L554.8 524.3L555.2 524.5L556.9 527.3L559.7 528.7L561.7 532.3L564.7 533.6L565.8 534.5L568.7 538.5L570.9 540.2L573.1 537.4L574.7 533.6L577.5 533.9L578.4 532.0L580.9 538.6L580.5 544.2L581.5 548.5L582.4 541.0L584.6 533.6L586.4 528.6L588.3 527.0L589.8 525.7L592.7 522.9L594.2 523.5L596.5 526.4L598.3 527.0L599.4 533.2L599.5 538.6L602.0 538.2L603.2 538.6L604.5 545.2L605.9 548.9L609.5 551.2L611.3 551.8L613.1 548.8L615.9 549.0L616.9 546.9L618.9 543.9L620.6 541.9L622.8 541.6L623.7 538.6L625.6 546.9L627.4 553.4L629.3 556.8L629.9 551.5L631.8 545.2L633.7 536.9L636.2 537.2L637.9 536.4L639.3 535.3L642.6 536.7L644.3 540.2L647.2 546.1L648.0 548.5L650.5 556.8L651.7 565.0L654.2 560.2L655.4 555.1L658.8 550.3L660.4 546.9L662.6 545.7L665.4 541.9L667.1 538.7L669.1 538.6L667.9 546.9L670.3 552.0L671.6 556.8L672.6 555.1L674.8 554.6L677.8 551.8L679.0 554.1L682.2 553.7L682.6 554.2L685.3 556.8L687.6 554.4L689.0 551.8L691.9 549.7L694.0 545.2L695.8 544.3L697.7 540.2L699.3 543.5L702.7 543.6L704.3 547.5L705.8 553.5L708.5 552.2L710.4 552.9L712.6 551.8L714.6 553.1L716.3 551.8L716.7 546.2L717.6 541.9L718.2 535.3L721.3 535.4L723.5 532.0L725.0 532.0L727.6 531.2L730.0 527.0L729.4 532.2L730.0 536.9L729.7 543.7L729.4 550.2L730.2 547.8L733.1 546.3L735.0 541.9L737.7 541.5L739.1 542.1L741.2 541.9L742.4 544.2L745.4 545.3L748.6 548.5L749.9 548.5L752.3 543.5L754.9 540.2L757.2 537.3L759.8 536.9L762.8 537.5L763.6 535.8L766.0 535.3L768.2 537.5L769.8 541.9L772.3 550.2L773.6 551.7L775.6 551.2L778.2 549.1L781.0 550.2L781.8 555.8L783.4 560.1L785.6 562.9L787.2 566.7L790.2 562.8L792.1 561.7L793.4 553.8L794.6 548.5L795.8 543.5L798.4 540.2L800.1 542.8L802.1 545.2L803.1 550.3L803.8 556.3L805.8 561.7L808.2 559.6L810.0 560.0L812.0 558.4L814.1 560.7L815.2 561.8L818.3 562.4L819.5 562.6L821.3 559.5L823.8 553.5L826.9 556.1L828.2 560.1L831.3 559.1L831.5 561.5L834.4 560.1L837.0 562.5L837.7 565.8L840.6 570.0L842.3 567.9L844.3 563.4L846.0 558.6L849.3 551.8L851.8 550.4L852.8 547.9L855.5 548.5L858.3 548.3L858.4 548.5L861.7 546.1L863.0 545.2L865.3 543.6L865.8 540.8L868.6 540.2L869.1 543.0L871.7 548.5L871.7 555.1L873.6 556.1L874.6 557.0L876.6 556.5L879.1 558.4L882.7 559.7L884.1 558.4L885.4 557.5L888.5 553.5L891.6 556.9L892.8 563.4L895.9 568.6L897.8 574.1L900.2 573.5L902.8 574.1L903.8 568.0L905.2 561.7L906.0 558.0L909.0 553.5L911.6 558.3L912.7 561.7L914.5 560.2L916.2 561.8L917.6 559.4L920.2 560.1L921.0 563.4L923.9 566.7L926.4 572.2L927.6 575.0L930.3 571.6L931.3 566.7L933.0 567.2L935.1 567.1L937.6 568.4L938.8 566.7L939.1 559.2L937.6 553.5L940.2 554.9L941.5 555.7L943.8 555.1L946.2 546.9L949.6 549.1L951.2 548.5L953.7 554.2L954.9 558.4L956.6 556.1L958.7 551.8L959.6 553.0L962.3 552.1L964.0 551.3L966.1 553.5L968.3 551.8L970.8 548.1L971.7 546.9L972.9 551.6L974.8 555.1L975.0 563.1L974.8 570.0L976.3 564.1L978.5 559.7L979.8 551.8L982.2 560.0L983.5 566.7L984.4 564.3L987.3 558.4L990.1 559.4L991.6 558.7L994.1 560.1L995.6 561.8L998.4 566.7L999.9 569.6L1003.9 572.4L1005.3 576.6L1006.9 570.2L1008.4 563.4L1010.6 565.6L1012.8 566.3L1014.6 565.0L1016.2 560.4L1019.6 553.5L1022.0 555.5L1023.3 556.8L1025.5 560.1L1025.8 566.7L1027.6 558.0L1029.5 551.8L1031.4 551.5L1032.3 553.9L1034.9 555.9L1037.0 555.1L1039.3 558.0L1040.7 560.1L1043.2 563.4L1045.2 564.8L1046.9 565.0L1049.9 570.0L1051.9 576.6L1052.7 570.1L1055.6 565.0L1055.2 557.1L1056.9 551.0L1058.0 556.8L1058.1 565.0L1059.3 570.4L1058.7 576.6L1060.0 576.4L1064.2 576.2L1065.6 573.3L1068.3 566.0L1069.3 561.7L1071.7 564.8L1074.3 568.3L1075.8 571.2L1079.3 570.6L1080.5 571.7L1081.6 566.7L1083.0 560.1L1085.8 562.2L1086.5 561.3L1089.4 561.8L1091.7 561.7L1092.5 557.9L1094.6 556.3L1097.2 553.5L1099.2 557.4L1100.4 561.7L1101.7 567.4L1104.1 573.3L1104.5 579.0L1105.4 585.1L1106.9 591.2L1106.6 594.8L1106.6 590.3L1108.7 582.7L1108.7 579.7L1109.1 573.3L1109.8 565.4L1111.5 558.4L1112.8 560.1L1114.6 568.3L1116.3 574.0L1117.8 578.3L1119.9 573.6L1121.5 568.3L1122.7 566.8L1125.2 563.4L1127.7 571.7L1131.2 565.0L1132.7 560.1L1135.4 565.7L1136.4 568.3L1137.0 572.1L1139.5 579.1L1140.9 572.9L1142.6 568.3L1143.6 567.1L1146.3 565.0L1147.5 566.3L1150.9 565.8L1152.6 568.3L1154.9 566.3L1156.6 563.5L1158.8 561.7L1160.3 563.2L1162.5 566.7L1165.7 569.2L1167.5 570.0L1167.6 573.4L1169.3 579.9L1171.1 575.2L1172.4 568.3L1173.7 560.1L1174.9 565.2L1177.4 568.3L1179.4 573.0L1182.4 578.3L1184.6 576.9L1187.3 573.3L1190.5 573.3L1191.6 571.6L1193.6 571.7L1196.3 566.8L1197.3 560.1L1199.1 558.7L1202.2 556.4L1203.5 556.8L1204.7 556.4L1207.6 559.2L1209.7 560.1L1210.5 566.5L1212.2 571.7L1213.2 576.4L1215.9 579.1L1218.1 574.3L1219.7 571.7L1219.9 565.2L1220.9 561.7L1223.2 562.1L1223.9 560.1L1227.0 560.0L1228.4 560.1L1229.4 561.3L1232.1 563.4L1234.7 565.0L1237.1 565.0L1240.5 567.4L1242.0 566.7L1244.5 560.1L1246.9 559.9L1249.5 556.8L1251.2 556.6L1253.8 554.3L1255.5 555.6L1258.4 559.7L1259.4 560.1L1261.9 566.7L1264.1 568.3L1266.9 571.7L1267.2 577.0L1268.1 583.2L1268.5 587.8L1269.4 593.1L1271.4 586.3L1273.1 581.6L1274.4 576.9L1275.6 570.0L1278.2 571.2L1280.6 570.0L1283.0 571.3L1284.3 575.0L1284.9 583.2L1286.6 581.3L1289.3 576.6L1291.2 570.8L1293.0 568.3L1295.5 576.6L1298.1 575.9L1300.4 575.0L1302.9 566.7L1303.9 574.2L1304.2 578.3L1305.7 576.9L1309.1 573.3L1311.6 569.3L1312.9 565.0L1314.4 565.2L1317.8 568.3L1321.2 563.4L1322.8 556.8L1325.0 558.6L1326.5 563.4L1328.9 567.9L1330.3 575.0L1331.8 573.3L1335.0 569.5L1336.5 568.3L1338.3 566.9L1341.4 560.4L1343.3 553.7L1345.5 555.8L1348.3 558.7L1350.7 560.4L1352.5 558.7L1354.5 558.7L1357.4 552.9L1359.5 545.5L1361.4 549.2L1364.0 551.0L1365.7 552.1L1368.4 553.9L1370.7 554.4L1371.9 553.7L1374.1 558.7L1375.6 560.3L1375.7 554.4L1374.6 549.3L1374.4 542.1L1375.8 534.4L1378.7 527.3L1380.7 534.8L1380.6 540.5L1382.0 541.7L1384.6 542.7L1386.8 545.5L1388.5 550.5L1388.1 557.0L1388.9 549.9L1390.9 544.6L1391.8 540.5L1393.6 537.4L1396.8 532.2L1398.5 534.8L1400.5 540.5L1403.2 543.0L1403.4 543.2L1406.1 547.1L1406.1 540.5L1407.8 535.1L1407.9 530.6L1409.4 530.4L1411.6 528.3L1414.2 528.9L1417.2 531.9L1419.1 537.2L1421.7 529.9L1424.1 524.0L1426.1 522.9L1429.1 518.7L1430.3 517.4L1431.8 523.8L1434.0 527.3L1436.5 533.9L1439.4 534.9L1439.6 535.5L1443.1 534.7L1444.0 537.2L1446.2 534.1L1449.0 528.9L1450.9 529.4L1453.7 528.9L1454.0 530.7L1456.4 530.6L1458.6 525.0L1461.6 522.4L1463.2 519.0L1465.6 523.9L1467.6 527.3L1468.7 530.2L1471.3 535.5L1472.7 530.8L1475.1 527.3L1477.0 532.5L1479.8 535.5L1480.6 538.8L1481.7 531.4L1482.5 525.6L1484.3 517.8L1485.0 512.4L1487.8 507.3L1489.8 507.0L1491.2 502.5L1492.6 507.6L1494.9 515.7L1495.9 512.3L1498.7 507.4L1501.1 508.2L1503.6 509.1L1506.3 513.2L1508.6 514.0L1510.3 515.9L1512.6 516.2L1514.8 515.7L1515.8 516.8L1517.9 516.1L1520.5 514.6L1522.3 514.0L1525.1 512.3L1526.0 512.3L1528.5 512.4L1528.7 505.9L1529.7 502.5L1532.3 498.5L1534.3 494.3L1535.9 490.9L1537.8 490.6L1541.1 493.0L1542.2 494.2L1545.0 497.9L1547.1 499.2L1548.1 502.4L1549.6 509.1L1550.9 509.0L1553.3 507.7L1556.3 504.8L1557.1 505.8L1558.3 500.3L1560.8 492.6L1558.3 487.6L1559.9 491.9L1562.5 494.9L1564.5 499.2L1564.8 503.4L1565.8 509.1L1568.6 502.1L1570.7 495.9L1572.0 495.8L1574.5 497.5L1576.0 503.3L1578.2 507.4L1579.6 514.8L1580.7 519.0L1582.4 520.9L1583.9 522.4L1586.9 522.3L1586.6 516.1L1588.1 512.4L1591.1 508.1L1593.1 502.5L1592.9 495.5L1593.1 490.9L1595.4 490.5L1596.7 486.1L1599.3 486.0L1599.8 479.8L1601.8 476.0L1602.8 476.5L1605.4 479.2L1607.7 478.6L1609.3 479.3L1612.0 477.3L1613.0 472.9L1615.5 470.2L1616.3 470.6L1619.6 471.1L1621.7 473.8L1622.9 472.7L1622.6 479.1L1621.7 484.3L1623.4 481.5L1626.2 481.5L1627.9 481.0L1630.1 477.9L1632.9 477.7L1635.4 481.9L1636.6 486.0" stroke-width="4.0"/><path d="M184.1 1215.4h0M185.9 1155.2h0M190.7 1125.0h0M188.0 1103.3h0M194.4 1080.9h0M195.9 1069.0h0M200.7 1045.2h0M204.4 1020.0h0M204.9 1004.2h0M211.2 977.6h0M211.7 954.5h0M214.4 944.6h0M217.5 894.2h0M223.8 929.2h0M222.8 862.0h0M223.8 825.6h0M229.1 802.1h0M230.7 786.0h0M227.5 751.7h0M230.7 716.6h0M231.7 684.4h0M232.8 662.0h0M230.2 639.6h0M232.7 610.0h0M234.6 580.0h0" stroke-width="8.6"/><path d="M237.2 568.0h0M236.6 562.3h0M235.7 557.0h0M236.0 553.5h0M236.5 547.0h0M237.2 541.5h0M237.6 536.0h0M237.1 529.9h0M236.5 526.0h0M237.9 521.5h0M238.0 516.0h0M237.0 509.5h0M236.8 506.0h0M238.0 498.0h0M237.2 490.0h0M239.8 491.6h0M240.0 496.8h0M243.8 500.9h0M244.7 502.2h0M242.8 505.3h0M240.4 507.2h0M241.2 508.2h0M243.1 511.7h0M245.9 513.8h0M243.3 514.3h0M241.7 515.4h0M239.7 518.8h0M242.3 520.8h0M243.8 523.2h0M245.3 525.4h0M243.2 527.9h0M240.4 530.3h0M242.0 532.7h0M244.7 535.3h0M247.6 539.6h0M248.9 541.5h0M250.3 542.7h0M251.3 536.7h0M253.4 532.0h0M253.4 525.4h0M255.3 520.4h0M257.1 519.7h0M259.2 518.4h0M261.5 515.5h0M263.2 512.1h0M263.3 505.5h0M264.6 502.9h0M267.0 505.4h0M268.9 503.1h0M270.6 506.2h0M272.9 504.3h0M274.5 507.2h0M275.3 513.4h0M276.7 516.2h0M278.3 522.9h0M279.2 519.3h0M278.5 511.0h0M279.5 507.2h0M280.1 507.4h0M282.6 510.5h0M285.1 517.1h0M286.6 521.1h0M289.4 522.9h0M290.9 518.6h0M292.5 513.8h0M294.9 508.6h0M296.3 505.5h0M298.5 505.0h0M300.0 507.2h0M302.3 510.8h0M305.0 517.1h0M306.0 519.0h0M308.1 522.9h0M310.6 518.0h0M311.8 509.7h0M314.8 510.2h0M316.2 512.1h0M317.8 514.4h0M319.9 518.8h0M320.5 527.5h0M320.5 533.6h0M323.1 528.1h0M323.6 525.4h0M324.0 519.4h0M325.5 515.5h0M327.6 515.6h0M330.5 513.8h0M330.2 507.3h0M331.7 502.2h0M334.1 498.3h0M336.0 497.3h0M336.6 491.0h0M336.7 486.5h0M338.4 485.9h0M340.4 487.8h0M343.1 486.2h0M344.1 485.7h0M343.0 490.1h0M344.0 498.2h0M342.9 502.2h0M344.4 505.5h0M347.2 510.5h0M349.7 513.8h0M350.3 515.5h0M352.2 523.7h0M353.4 532.0h0M351.6 540.2h0M354.7 542.5h0M355.9 546.9h0M358.0 554.4h0M359.7 559.3h0M360.7 554.4h0M363.4 550.2h0M366.3 546.4h0M367.1 546.0h0M369.4 548.8h0M370.8 553.5h0M373.3 556.8h0M375.3 550.1h0M375.8 545.2h0M378.3 540.2h0M380.3 542.2h0M383.3 543.6h0M385.8 545.4h0M386.8 548.1h0M389.5 552.6h0M392.1 547.5h0M393.2 541.9h0M394.7 542.1h0M396.6 543.1h0M398.7 539.7h0M400.2 541.0h0M403.2 541.1h0M404.7 542.0h0M406.9 545.2h0M408.6 549.2h0M411.9 552.6h0M414.6 550.3h0M415.9 550.7h0M417.6 547.8h0M419.3 545.2h0M419.2 538.1h0M421.2 533.6h0M421.8 525.4h0M424.6 523.4h0M426.5 525.5h0M427.4 524.5h0M427.7 527.4h0M427.4 533.6h0M429.8 535.2h0M432.2 536.3h0M433.0 538.6h0M435.6 539.5h0M438.0 543.6h0M441.3 546.9h0M442.9 548.5h0M445.2 554.7h0M446.7 559.3h0M448.4 554.5h0M448.7 547.2h0M449.1 541.9h0M450.6 538.0h0M450.4 531.2h0M453.2 533.8h0M454.7 536.9h0M456.1 544.9h0M457.0 550.6h0M458.5 556.8h0M460.6 557.1h0M462.5 555.3h0M464.1 556.8h0M465.5 551.9h0M465.3 543.6h0M465.7 538.6h0M466.5 532.0h0M469.2 529.5h0M471.5 525.4h0M474.1 530.9h0M475.2 536.9h0M477.9 533.5h0M479.6 531.4h0M481.5 531.2h0M483.1 531.9h0M486.0 533.5h0M488.3 533.6h0M489.6 540.1h0M488.1 544.9h0M489.5 551.8h0M491.8 548.3h0M492.5 545.2h0M495.1 543.6h0M498.0 543.4h0M500.1 540.2h0M501.9 533.4h0M502.0 527.0h0M504.2 531.1h0M505.5 535.3h0M507.5 541.1h0M510.3 538.9h0M511.3 534.5h0M513.5 536.2h0M516.2 535.3h0M517.7 539.7h0M520.0 543.6h0M522.0 543.9h0M524.9 548.1h0M526.2 548.5h0M524.9 553.5h0M528.0 555.1h0M528.4 554.3h0M531.2 556.0h0M533.0 554.9h0M535.5 553.3h0M538.0 553.5h0M536.4 550.6h0M534.9 546.9h0M537.5 540.4h0M538.6 535.3h0M540.6 535.9h0M541.7 531.6h0M544.8 532.0h0M544.8 538.3h0M546.7 541.9h0M548.4 536.9h0M549.8 530.3h0M552.3 523.7h0M554.8 524.3h0M555.2 524.5h0M556.9 527.3h0M559.7 528.7h0M561.7 532.3h0M564.7 533.6h0M565.8 534.5h0M568.7 538.5h0M570.9 540.2h0M573.1 537.4h0M574.7 533.6h0M577.5 533.9h0M578.4 532.0h0M580.9 538.6h0M580.5 544.2h0M581.5 548.5h0M582.4 541.0h0M584.6 533.6h0M586.4 528.6h0M588.3 527.0h0M589.8 525.7h0M592.7 522.9h0M594.2 523.5h0M596.5 526.4h0M598.3 527.0h0M599.4 533.2h0M599.5 538.6h0M602.0 538.2h0M603.2 538.6h0M604.5 545.2h0M605.9 548.9h0M609.5 551.2h0M611.3 551.8h0M613.1 548.8h0M615.9 549.0h0M616.9 546.9h0M618.9 543.9h0M620.6 541.9h0M622.8 541.6h0M623.7 538.6h0M625.6 546.9h0M627.4 553.4h0M629.3 556.8h0M629.9 551.5h0M631.8 545.2h0M633.7 536.9h0M636.2 537.2h0M637.9 536.4h0M639.3 535.3h0M642.6 536.7h0M644.3 540.2h0M647.2 546.1h0M648.0 548.5h0M650.5 556.8h0M651.7 565.0h0M654.2 560.2h0M655.4 555.1h0M658.8 550.3h0M660.4 546.9h0M662.6 545.7h0M665.4 541.9h0M667.1 538.7h0M669.1 538.6h0M667.9 546.9h0M670.3 552.0h0M671.6 556.8h0M672.6 555.1h0M674.8 554.6h0M677.8 551.8h0M679.0 554.1h0M682.2 553.7h0M682.6 554.2h0M685.3 556.8h0M687.6 554.4h0M689.0 551.8h0M691.9 549.7h0M694.0 545.2h0M695.8 544.3h0M697.7 540.2h0M699.3 543.5h0M702.7 543.6h0M704.3 547.5h0M705.8 553.5h0M708.5 552.2h0M710.4 552.9h0M712.6 551.8h0M714.6 553.1h0M716.3 551.8h0M716.7 546.2h0M717.6 541.9h0M718.2 535.3h0M721.3 535.4h0M723.5 532.0h0M725.0 532.0h0M727.6 531.2h0M730.0 527.0h0M729.4 532.2h0M730.0 536.9h0M729.7 543.7h0M729.4 550.2h0M730.2 547.8h0M733.1 546.3h0M735.0 541.9h0M737.7 541.5h0M739.1 542.1h0M741.2 541.9h0M742.4 544.2h0M745.4 545.3h0M748.6 548.5h0M749.9 548.5h0M752.3 543.5h0M754.9 540.2h0M757.2 537.3h0M759.8 536.9h0M762.8 537.5h0M763.6 535.8h0M766.0 535.3h0M768.2 537.5h0M769.8 541.9h0M772.3 550.2h0M773.6 551.7h0M775.6 551.2h0M778.2 549.1h0M781.0 550.2h0M781.8 555.8h0M783.4 560.1h0M785.6 562.9h0M787.2 566.7h0M790.2 562.8h0M792.1 561.7h0M793.4 553.8h0M794.6 548.5h0M795.8 543.5h0M798.4 540.2h0M800.1 542.8h0M802.1 545.2h0M803.1 550.3h0M803.8 556.3h0M805.8 561.7h0M808.2 559.6h0M810.0 560.0h0M812.0 558.4h0M814.1 560.7h0M815.2 561.8h0M818.3 562.4h0M819.5 562.6h0M821.3 559.5h0M823.8 553.5h0M826.9 556.1h0M828.2 560.1h0M831.3 559.1h0M831.5 561.5h0M834.4 560.1h0M837.0 562.5h0M837.7 565.8h0M840.6 570.0h0M842.3 567.9h0M844.3 563.4h0M846.0 558.6h0M849.3 551.8h0M851.8 550.4h0M852.8 547.9h0M855.5 548.5h0M858.3 548.3h0M858.4 548.5h0M861.7 546.1h0M863.0 545.2h0M865.3 543.6h0M865.8 540.8h0M868.6 540.2h0M869.1 543.0h0M871.7 548.5h0M871.7 555.1h0M873.6 556.1h0M874.6 557.0h0M876.6 556.5h0M879.1 558.4h0M882.7 559.7h0M884.1 558.4h0M885.4 557.5h0M888.5 553.5h0M891.6 556.9h0M892.8 563.4h0M895.9 568.6h0M897.8 574.1h0M900.2 573.5h0M902.8 574.1h0M903.8 568.0h0M905.2 561.7h0M906.0 558.0h0M909.0 553.5h0M911.6 558.3h0M912.7 561.7h0M914.5 560.2h0M916.2 561.8h0M917.6 559.4h0M920.2 560.1h0M921.0 563.4h0M923.9 566.7h0M926.4 572.2h0M927.6 575.0h0M930.3 571.6h0M931.3 566.7h0M933.0 567.2h0M935.1 567.1h0M937.6 568.4h0M938.8 566.7h0M939.1 559.2h0M937.6 553.5h0M940.2 554.9h0M941.5 555.7h0M943.8 555.1h0M946.2 546.9h0M949.6 549.1h0M951.2 548.5h0M953.7 554.2h0M954.9 558.4h0M956.6 556.1h0M958.7 551.8h0M959.6 553.0h0M962.3 552.1h0M964.0 551.3h0M966.1 553.5h0M968.3 551.8h0M970.8 548.1h0M971.7 546.9h0M972.9 551.6h0M974.8 555.1h0M975.0 563.1h0M974.8 570.0h0M976.3 564.1h0M978.5 559.7h0M979.8 551.8h0M982.2 560.0h0M983.5 566.7h0M984.4 564.3h0M987.3 558.4h0M990.1 559.4h0M991.6 558.7h0M994.1 560.1h0M995.6 561.8h0M998.4 566.7h0M999.9 569.6h0M1003.9 572.4h0M1005.3 576.6h0M1006.9 570.2h0M1008.4 563.4h0M1010.6 565.6h0M1012.8 566.3h0M1014.6 565.0h0M1016.2 560.4h0M1019.6 553.5h0M1022.0 555.5h0M1023.3 556.8h0M1025.5 560.1h0M1025.8 566.7h0M1027.6 558.0h0M1029.5 551.8h0M1031.4 551.5h0M1032.3 553.9h0M1034.9 555.9h0M1037.0 555.1h0M1039.3 558.0h0M1040.7 560.1h0M1043.2 563.4h0M1045.2 564.8h0M1046.9 565.0h0M1049.9 570.0h0M1051.9 576.6h0M1052.7 570.1h0M1055.6 565.0h0M1055.2 557.1h0M1056.9 551.0h0M1058.0 556.8h0M1058.1 565.0h0M1059.3 570.4h0M1058.7 576.6h0M1060.0 576.4h0M1064.2 576.2h0M1065.6 573.3h0M1068.3 566.0h0M1069.3 561.7h0M1071.7 564.8h0M1074.3 568.3h0M1075.8 571.2h0M1079.3 570.6h0M1080.5 571.7h0M1081.6 566.7h0M1083.0 560.1h0M1085.8 562.2h0M1086.5 561.3h0M1089.4 561.8h0M1091.7 561.7h0M1092.5 557.9h0M1094.6 556.3h0M1097.2 553.5h0M1099.2 557.4h0M1100.4 561.7h0M1101.7 567.4h0M1104.1 573.3h0M1104.5 579.0h0M1105.4 585.1h0M1106.9 591.2h0M1106.6 594.8h0M1106.6 590.3h0M1108.7 582.7h0M1108.7 579.7h0M1109.1 573.3h0M1109.8 565.4h0M1111.5 558.4h0M1112.8 560.1h0M1114.6 568.3h0M1116.3 574.0h0M1117.8 578.3h0M1119.9 573.6h0M1121.5 568.3h0M1122.7 566.8h0M1125.2 563.4h0M1127.7 571.7h0M1131.2 565.0h0M1132.7 560.1h0M1135.4 565.7h0M1136.4 568.3h0M1137.0 572.1h0M1139.5 579.1h0M1140.9 572.9h0M1142.6 568.3h0M1143.6 567.1h0M1146.3 565.0h0M1147.5 566.3h0M1150.9 565.8h0M1152.6 568.3h0M1154.9 566.3h0M1156.6 563.5h0M1158.8 561.7h0M1160.3 563.2h0M1162.5 566.7h0M1165.7 569.2h0M1167.5 570.0h0M1167.6 573.4h0M1169.3 579.9h0M1171.1 575.2h0M1172.4 568.3h0M1173.7 560.1h0M1174.9 565.2h0M1177.4 568.3h0M1179.4 573.0h0M1182.4 578.3h0M1184.6 576.9h0M1187.3 573.3h0M1190.5 573.3h0M1191.6 571.6h0M1193.6 571.7h0M1196.3 566.8h0M1197.3 560.1h0M1199.1 558.7h0M1202.2 556.4h0M1203.5 556.8h0M1204.7 556.4h0M1207.6 559.2h0M1209.7 560.1h0M1210.5 566.5h0M1212.2 571.7h0M1213.2 576.4h0M1215.9 579.1h0M1218.1 574.3h0M1219.7 571.7h0M1219.9 565.2h0M1220.9 561.7h0M1223.2 562.1h0M1223.9 560.1h0M1227.0 560.0h0M1228.4 560.1h0M1229.4 561.3h0M1232.1 563.4h0M1234.7 565.0h0M1237.1 565.0h0M1240.5 567.4h0M1242.0 566.7h0M1244.5 560.1h0M1246.9 559.9h0M1249.5 556.8h0M1251.2 556.6h0M1253.8 554.3h0M1255.5 555.6h0M1258.4 559.7h0M1259.4 560.1h0M1261.9 566.7h0M1264.1 568.3h0M1266.9 571.7h0M1267.2 577.0h0M1268.1 583.2h0M1268.5 587.8h0M1269.4 593.1h0M1271.4 586.3h0M1273.1 581.6h0M1274.4 576.9h0M1275.6 570.0h0M1278.2 571.2h0M1280.6 570.0h0M1283.0 571.3h0M1284.3 575.0h0M1284.9 583.2h0M1286.6 581.3h0M1289.3 576.6h0M1291.2 570.8h0M1293.0 568.3h0M1295.5 576.6h0M1298.1 575.9h0M1300.4 575.0h0M1302.9 566.7h0M1303.9 574.2h0M1304.2 578.3h0M1305.7 576.9h0M1309.1 573.3h0M1311.6 569.3h0M1312.9 565.0h0M1314.4 565.2h0M1317.8 568.3h0M1321.2 563.4h0M1322.8 556.8h0M1325.0 558.6h0M1326.5 563.4h0M1328.9 567.9h0M1330.3 575.0h0M1331.8 573.3h0M1335.0 569.5h0M1336.5 568.3h0M1338.3 566.9h0M1341.4 560.4h0M1343.3 553.7h0M1345.5 555.8h0M1348.3 558.7h0M1350.7 560.4h0M1352.5 558.7h0M1354.5 558.7h0M1357.4 552.9h0M1359.5 545.5h0M1361.4 549.2h0M1364.0 551.0h0M1365.7 552.1h0M1368.4 553.9h0M1370.7 554.4h0M1371.9 553.7h0M1374.1 558.7h0M1375.6 560.3h0M1375.7 554.4h0M1374.6 549.3h0M1374.4 542.1h0M1375.8 534.4h0M1378.7 527.3h0M1380.7 534.8h0M1380.6 540.5h0M1382.0 541.7h0M1384.6 542.7h0M1386.8 545.5h0M1388.5 550.5h0M1388.1 557.0h0M1388.9 549.9h0M1390.9 544.6h0M1391.8 540.5h0M1393.6 537.4h0M1396.8 532.2h0M1398.5 534.8h0M1400.5 540.5h0M1403.2 543.0h0M1403.4 543.2h0M1406.1 547.1h0M1406.1 540.5h0M1407.8 535.1h0M1407.9 530.6h0M1409.4 530.4h0M1411.6 528.3h0M1414.2 528.9h0M1417.2 531.9h0M1419.1 537.2h0M1421.7 529.9h0M1424.1 524.0h0M1426.1 522.9h0M1429.1 518.7h0M1430.3 517.4h0M1431.8 523.8h0M1434.0 527.3h0M1436.5 533.9h0M1439.4 534.9h0M1439.6 535.5h0M1443.1 534.7h0M1444.0 537.2h0M1446.2 534.1h0M1449.0 528.9h0M1450.9 529.4h0M1453.7 528.9h0M1454.0 530.7h0M1456.4 530.6h0M1458.6 525.0h0M1461.6 522.4h0M1463.2 519.0h0M1465.6 523.9h0M1467.6 527.3h0M1468.7 530.2h0M1471.3 535.5h0M1472.7 530.8h0M1475.1 527.3h0M1477.0 532.5h0M1479.8 535.5h0M1480.6 538.8h0M1481.7 531.4h0M1482.5 525.6h0M1484.3 517.8h0M1485.0 512.4h0M1487.8 507.3h0M1489.8 507.0h0M1491.2 502.5h0M1492.6 507.6h0M1494.9 515.7h0M1495.9 512.3h0M1498.7 507.4h0M1501.1 508.2h0M1503.6 509.1h0M1506.3 513.2h0M1508.6 514.0h0M1510.3 515.9h0M1512.6 516.2h0M1514.8 515.7h0M1515.8 516.8h0M1517.9 516.1h0M1520.5 514.6h0M1522.3 514.0h0M1525.1 512.3h0M1526.0 512.3h0M1528.5 512.4h0M1528.7 505.9h0M1529.7 502.5h0M1532.3 498.5h0M1534.3 494.3h0M1535.9 490.9h0M1537.8 490.6h0M1541.1 493.0h0M1542.2 494.2h0M1545.0 497.9h0M1547.1 499.2h0M1548.1 502.4h0M1549.6 509.1h0M1550.9 509.0h0M1553.3 507.7h0M1556.3 504.8h0M1557.1 505.8h0M1558.3 500.3h0M1560.8 492.6h0M1558.3 487.6h0M1559.9 491.9h0M1562.5 494.9h0M1564.5 499.2h0M1564.8 503.4h0M1565.8 509.1h0M1568.6 502.1h0M1570.7 495.9h0M1572.0 495.8h0M1574.5 497.5h0M1576.0 503.3h0M1578.2 507.4h0M1579.6 514.8h0M1580.7 519.0h0M1582.4 520.9h0M1583.9 522.4h0M1586.9 522.3h0M1586.6 516.1h0M1588.1 512.4h0M1591.1 508.1h0M1593.1 502.5h0M1592.9 495.5h0M1593.1 490.9h0M1595.4 490.5h0M1596.7 486.1h0M1599.3 486.0h0M1599.8 479.8h0M1601.8 476.0h0M1602.8 476.5h0M1605.4 479.2h0M1607.7 478.6h0M1609.3 479.3h0M1612.0 477.3h0M1613.0 472.9h0M1615.5 470.2h0M1616.3 470.6h0M1619.6 471.1h0M1621.7 473.8h0M1622.9 472.7h0M1622.6 479.1h0M1621.7 484.3h0M1623.4 481.5h0M1626.2 481.5h0M1627.9 481.0h0M1630.1 477.9h0M1632.9 477.7h0M1635.4 481.9h0M1636.6 486.0h0" stroke-width="8.6"/></g>
<g transform="scale(1.33 1)"><path d="M184.1 1216.2h0" stroke="#10e010" stroke-width="8.6" stroke-linecap="round" fill="none"/><path d="M184.4 1213L184.7 1190" stroke="#ff0000" stroke-width="4.0" stroke-linecap="round" fill="none"/></g>
</g>
<line x1="178.6" y1="655" x2="2374.5" y2="655" stroke="#5a5a5a" stroke-width="2.1"/>
<line x1="1751" y1="202.5" x2="2026.5" y2="202.5" stroke="#a6a6a6" stroke-width="2.6"/>
<line x1="1409" y1="613.5" x2="1684" y2="613.5" stroke="#b0b0b0" stroke-width="3"/>
<rect x="178.6" y="36.5" width="2195.9" height="1239.5" fill="none" stroke="#000" stroke-width="2.5"/>
<g filter="url(#soft2)">
<text class="b" transform="translate(165 155.4) scale(1.095 1)" font-size="48" text-anchor="end">2.2</text>
<text class="b" transform="translate(165 353.4) scale(1.095 1)" font-size="48" text-anchor="end">2.0</text>
<text class="b" transform="translate(165 551.4) scale(1.095 1)" font-size="48" text-anchor="end">1.8</text>
<text class="b" transform="translate(165 749.4) scale(1.095 1)" font-size="48" text-anchor="end">1.6</text>
<text class="b" transform="translate(165 947.4) scale(1.095 1)" font-size="48" text-anchor="end">1.4</text>
<text class="b" transform="translate(165 1145.4) scale(1.095 1)" font-size="48" text-anchor="end">1.2</text>
<text class="b" transform="translate(219.2 1326.5) scale(1.095 1)" font-size="48" text-anchor="middle">0</text>
<text class="b" transform="translate(755.2 1326.5) scale(1.095 1)" font-size="48" text-anchor="middle">20</text>
<text class="b" transform="translate(1291.2 1326.5) scale(1.095 1)" font-size="48" text-anchor="middle">40</text>
<text class="b" transform="translate(1827.2 1326.5) scale(1.095 1)" font-size="48" text-anchor="middle">60</text>
<text class="b" transform="translate(2363.2 1326.5) scale(1.095 1)" font-size="48" text-anchor="middle">80</text>
<text class="b" transform="translate(1273.3 1396.3) scale(1.095 1)" font-size="48" text-anchor="middle">ai0 (F) / mv</text>
<text class="b" transform="translate(63.5 656) scale(1.11 1) rotate(-90)" font-size="48" text-anchor="middle">W / mm</text>
<text transform="translate(1495 217.5) scale(1.09 1)" font-size="48" text-anchor="start">C0 (Patch)</text>
<text transform="translate(873.2 635.5) scale(1.0725 1)" font-size="48" text-anchor="start">Average (Motherboard)</text>
</g>
</svg></body></html>
